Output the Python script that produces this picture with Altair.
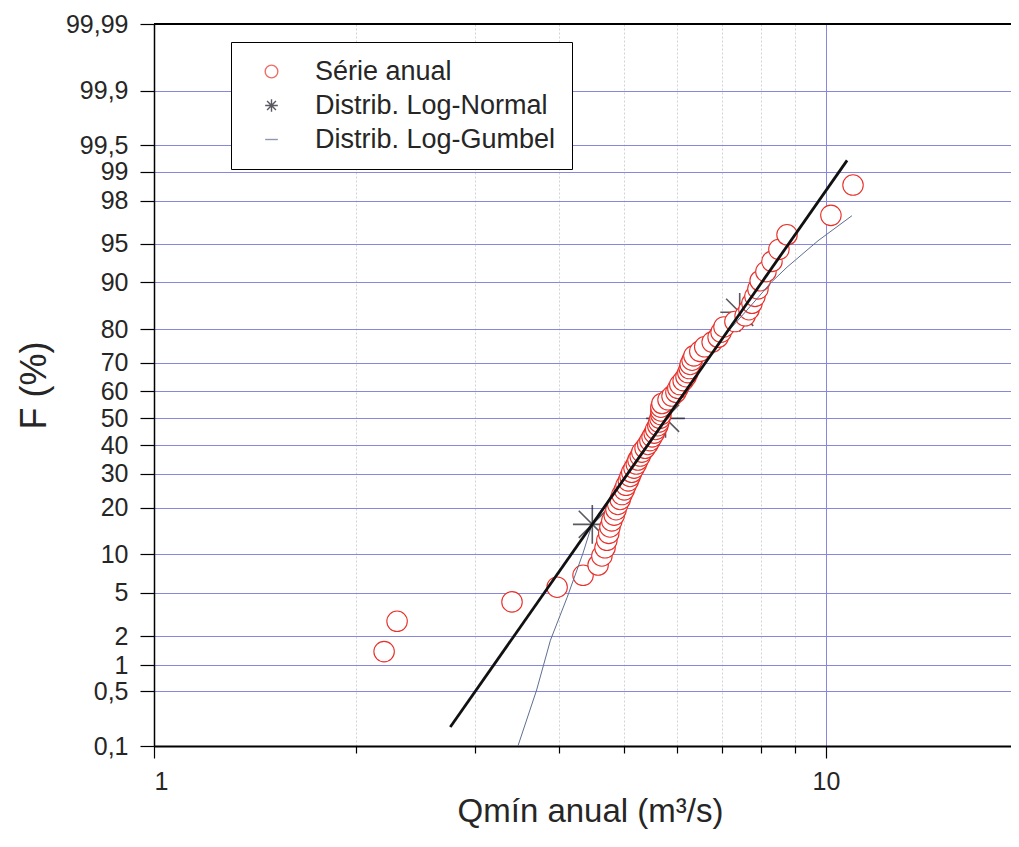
import altair as alt
import pandas as pd
from statistics import NormalDist

ND = NormalDist()

# ---- data ----
q_anual = [2.20, 2.30, 3.41, 3.98, 4.35, 4.58, 4.64, 4.69, 4.72, 4.75,
           4.77, 4.80, 4.84, 4.87, 4.90, 4.94, 4.97, 5.01, 5.04, 5.08,
           5.11, 5.14, 5.18, 5.22, 5.25, 5.29, 5.32, 5.38, 5.43, 5.47,
           5.51, 5.55, 5.58, 5.62, 5.64, 5.66, 5.68, 5.68, 5.68, 5.70,
           5.82, 5.90, 5.98, 6.02, 6.06, 6.13, 6.19, 6.23, 6.26, 6.28,
           6.32, 6.36, 6.49, 6.60, 6.77, 6.91, 6.98, 7.05, 7.32, 7.58,
           7.68, 7.76, 7.84, 7.92, 7.98, 8.14, 8.31, 8.51, 8.75, 10.17,
           10.97]
f_anual = [1.39, 2.78, 4.17, 5.56, 6.94, 8.33, 9.72, 11.11, 12.5, 13.89,
           15.28, 16.67, 18.06, 19.44, 20.83, 22.22, 23.61, 25.0, 26.39, 27.78,
           29.17, 30.56, 31.94, 33.33, 34.72, 36.11, 37.5, 38.89, 40.28, 41.67,
           43.06, 44.44, 45.83, 47.22, 48.61, 50.0, 51.39, 52.78, 54.17, 55.56,
           56.94, 58.33, 59.72, 61.11, 62.5, 63.89, 65.28, 66.67, 68.06, 69.44,
           70.83, 72.22, 73.61, 75.0, 76.39, 77.78, 79.17, 80.56, 81.94, 83.33,
           84.72, 86.11, 87.5, 88.89, 90.28, 91.67, 93.06, 94.44, 95.83, 97.22,
           98.61]

lognorm_q = [4.49, 5.77, 7.44]
lognorm_f = [15.87, 50.0, 84.13]

lnline_q = [2.76, 10.75]
lnline_f = [0.18, 99.25]

gumbel_q = [3.48, 3.71, 3.89, 4.12, 4.35, 4.49, 4.97, 5.77, 7.17, 7.95, 8.25, 8.75, 9.73, 10.93]
gumbel_f = [0.1, 0.52, 1.82, 4.58, 10.2, 16.1, 27.9, 50.0, 79.6, 87.5, 89.8, 92.3, 95.3, 97.2]

y_ticks = [0.1, 0.5, 1, 2, 5, 10, 20, 30, 40, 50, 60, 70, 80, 90, 95, 98, 99, 99.5, 99.9, 99.99]
y_labels = ["0,1", "0,5", "1", "2", "5", "10", "20", "30", "40", "50", "60", "70",
            "80", "90", "95", "98", "99", "99,5", "99,9", "99,99"]
x_ticks = [1, 2, 3, 4, 5, 6, 7, 8, 9, 10]

series_names = ["Série anual", "Distrib. Log-Normal", "Distrib. Log-Gumbel"]


def zf(f):
    return ND.inv_cdf(f / 100.0)


def frame(q, f, name):
    return pd.DataFrame({"Q": q, "F": f, "z": [zf(v) for v in f], "serie": name})


pts = frame(q_anual, f_anual, series_names[0])
ast = frame(lognorm_q, lognorm_f, series_names[1])
lnl = frame(lnline_q, lnline_f, series_names[1])
gum = frame(gumbel_q, gumbel_f, series_names[2])

W, H = 857, 722
FONT = "Liberation Sans"
GRID_BLUE = "#8787de"
TXT = "#262626"

ASTER = "M-1,0L1,0M0,-1L0,1M-0.7,-0.7L0.7,0.7M-0.7,0.7L0.7,-0.7"

x_scale = alt.Scale(type="log", domain=[1, 18.85], nice=False)
y_scale = alt.Scale(domain=[zf(0.1), zf(99.99)], nice=False, zero=False)

x_axis = alt.Axis(
    values=x_ticks,
    labelExpr="datum.value == 1 || datum.value == 10 ? datum.label : ''",
    title="Qmín anual (m³/s)",
    grid=True,
    gridColor={"condition": {"test": "datum.value == 10", "value": GRID_BLUE}, "value": "#d2d2d2"},
    gridDash={"condition": {"test": "datum.value == 10", "value": []}, "value": [2, 2]},
    tickSize={"condition": {"test": "datum.value == 1 || datum.value == 10", "value": 12}, "value": 7},
    tickColor="black",
    tickWidth=1.2,
    domainColor="black",
    domainWidth=2,
    labelFont=FONT,
    labelFontSize=25,
    labelColor=TXT,
    labelPadding=11,
    titleFont=FONT,
    titleFontSize=33,
    titleFontWeight="normal",
    titleColor=TXT,
    titlePadding=1,
    titleX=436,
)

label_expr = "''"
for v, lab in zip(reversed(y_ticks), reversed(y_labels)):
    label_expr = f"abs(datum.value - ({zf(v):.6f})) < 0.0001 ? '{lab}' : " + label_expr

y_axis = alt.Axis(
    values=[zf(v) for v in y_ticks],
    labelExpr=label_expr,
    title="F (%)",
    grid=True,
    gridColor=GRID_BLUE,
    gridWidth=1,
    tickSize=14,
    tickColor="black",
    tickWidth=1.2,
    domainColor="black",
    domainWidth=1.5,
    labelFont=FONT,
    labelFontSize=25,
    labelColor=TXT,
    labelPadding=12,
    titleFont=FONT,
    titleFontSize=36,
    titleFontWeight="normal",
    titleColor=TXT,
    titlePadding=12,
)

legend = alt.Legend(
    title=None,
    orient="none",
    legendX=77,
    legendY=18,
    strokeColor="black",
    fillColor="white",
    padding=16,
    symbolOffset=11,
    labelOffset=30,
    labelFont=FONT,
    labelFontSize=27,
    labelColor=TXT,
    rowPadding=6,
    symbolSize=160,
    symbolStrokeWidth=1.4,
    labelLimit=500,
)

shape_enc = alt.Shape("serie:N", scale=alt.Scale(domain=series_names, range=["circle", ASTER, "stroke"]), legend=legend)
stroke_enc = alt.Stroke("serie:N", scale=alt.Scale(domain=series_names, range=["#e8302a", "#141420", "#5f6f90"]), legend=legend)

X = alt.X("Q:Q", scale=x_scale, axis=x_axis)
Y = alt.Y("z:Q", scale=y_scale, axis=y_axis)

asterisks = alt.Chart(ast).mark_point(filled=False, size=1500, strokeWidth=1.6).encode(
    x=X, y=Y, shape=shape_enc, stroke=stroke_enc
)
circles = alt.Chart(pts).mark_point(fill="white", fillOpacity=1, size=420, strokeWidth=1.1).encode(
    x=X, y=Y, shape=shape_enc, stroke=stroke_enc
)
gumbel_line = alt.Chart(gum).mark_line(strokeWidth=1, interpolate="linear").encode(
    x=X, y=Y, stroke=stroke_enc
)
ln_line = alt.Chart(lnl).mark_line(strokeWidth=2.8, color="#111").encode(x=X, y=Y)

top_frame = alt.Chart(pts).mark_rule(color="black", strokeWidth=1.5).encode(
    x=alt.value(0), x2=alt.value(W), y=alt.value(0)
)

chart = alt.layer(asterisks, circles, gumbel_line, ln_line, top_frame).properties(
    width=W,
    height=H,
    autosize=alt.AutoSizeParams(type="none"),
    padding={"left": 146, "top": 16, "right": 0, "bottom": 90},
).configure_view(strokeWidth=0).configure(background="white")

chart.save("out.html", embed_options={"renderer": "svg", "actions": False})
